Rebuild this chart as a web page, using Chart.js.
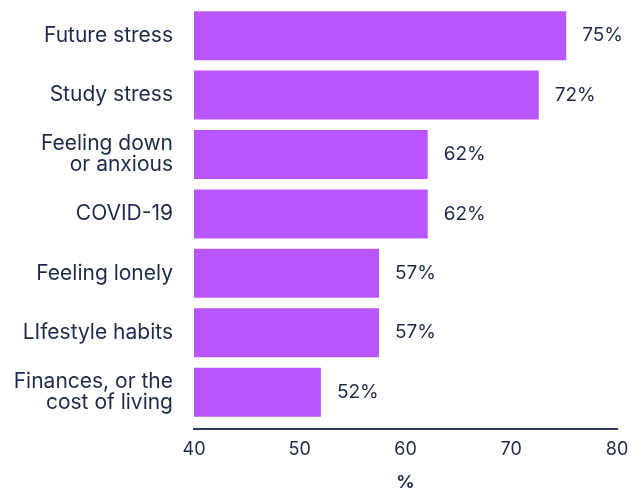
<!DOCTYPE html>
<html>
<head>
<meta charset="utf-8">
<script src="https://cdn.jsdelivr.net/npm/chart.js@4.4.1/dist/chart.umd.min.js"></script>
<style>
  html, body { margin: 0; padding: 0; background: #fff; }
  #wrap { width: 644px; height: 493px; position: relative; }
</style>
</head>
<body>
<div id="wrap"><canvas id="stressChart"></canvas></div>
<script>
  // ---------- Data ----------
  const categories = [
    ["Future stress"],
    ["Study stress"],
    ["Feeling down", "or anxious"],
    ["COVID-19"],
    ["Feeling lonely"],
    ["LIfestyle habits"],
    ["Finances, or the", "cost of living"]
  ];
  const values      = [75.2, 72.6, 62.1, 62.1, 57.5, 57.5, 52.0];
  const valueLabels = ["75%", "72%", "62%", "62%", "57%", "57%", "52%"];
  const xTicks      = [40, 50, 60, 70, 80];

  // ---------- Style ----------
  const BAR_COLOR  = "#b955ff";
  const TEXT_COLOR = "#1d2b4a";
  const AXIS_COLOR = "#2e3d59";
  const FONT       = "Inter, 'Noto Sans', sans-serif";

  // value labels to the right of each bar
  const barValueLabels = {
    id: "barValueLabels",
    afterDatasetsDraw(chart) {
      const ctx = chart.ctx;
      const meta = chart.getDatasetMeta(0);
      ctx.save();
      ctx.font = "400 19px " + FONT;
      ctx.fillStyle = TEXT_COLOR;
      ctx.textAlign = "left";
      ctx.textBaseline = "middle";
      meta.data.forEach((bar, i) => {
        ctx.fillText(valueLabels[i], bar.x + 16, bar.y);
      });
      ctx.restore();
    }
  };

  new Chart(document.getElementById("stressChart"), {
    type: "bar",
    data: {
      labels: categories,
      datasets: [{
        data: values,
        backgroundColor: BAR_COLOR,
        borderWidth: 0,
        categoryPercentage: 1,
        barPercentage: 0.825
      }]
    },
    options: {
      indexAxis: "y",
      responsive: true,
      maintainAspectRatio: false,
      animation: false,
      layout: { padding: { top: 6, right: 27, left: 0, bottom: 0 } },
      plugins: {
        legend: { display: false },
        tooltip: { enabled: false }
      },
      scales: {
        x: {
          min: 40,
          max: 80,
          afterBuildTicks: (s) => { s.ticks = xTicks.map(v => ({ value: v })); },
          afterFit: (s) => { s.height = 64; },
          grid: { display: false, drawTicks: false },
          border: { display: true, color: AXIS_COLOR, width: 2 },
          ticks: {
            color: TEXT_COLOR,
            padding: 10,
            maxRotation: 0,
            font: { family: FONT, size: 18 }
          },
          title: {
            display: true,
            text: "%",
            color: TEXT_COLOR,
            padding: { top: 11, bottom: 0 },
            font: { family: FONT, size: 18, weight: "bold" }
          }
        },
        y: {
          // leave a little room between the last bar and the x axis line
          afterBuildTicks: (s) => { s._valueRange += 0.12; },
          // labels sit inside their bands, no overflow room needed
          afterFit: (s) => { s.width = 194; s.paddingTop = 0; s.paddingBottom = 0; },
          grid: { display: false, drawTicks: false },
          border: { display: false },
          ticks: {
            color: TEXT_COLOR,
            padding: 21,
            font: { family: FONT, size: 21, lineHeight: 1.0 }
          }
        }
      }
    },
    plugins: [barValueLabels]
  });
</script>
</body>
</html>
